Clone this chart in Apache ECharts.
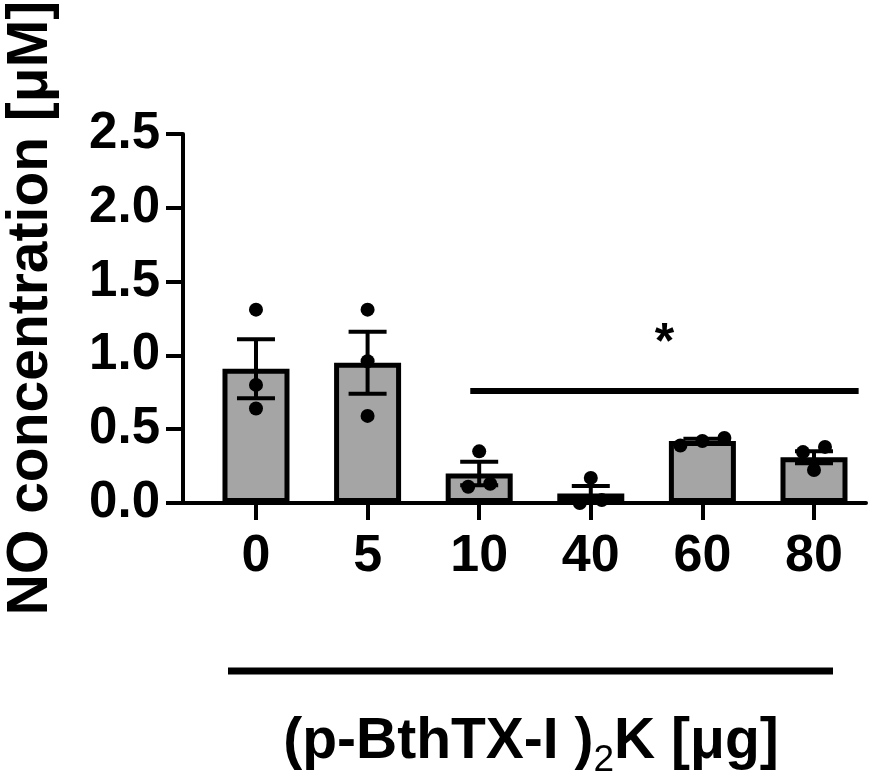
<!DOCTYPE html>
<html><head><meta charset="utf-8">
<script src="https://cdn.jsdelivr.net/npm/echarts@6/dist/echarts.min.js"></script>
<style>html,body{margin:0;padding:0;background:#fff}#c{width:893px;height:774px}</style>
</head><body><div id="c"></div>
<script>
// ---- data ----
const categories = ['0', '5', '10', '40', '60', '80'];
const means = [0.91, 0.95, 0.20, 0.065, 0.42, 0.31];
const sems = [0.20, 0.21, 0.08, 0.05, 0.015, 0.04];
const points = [
  [1.31, 0.80, 0.64],
  [1.31, 0.96, 0.59],
  [0.35, 0.11, 0.13],
  [0.17, 0.00, 0.02],
  [0.39, 0.42, 0.44],
  [0.38, 0.345, 0.224]
];
const yTicks = [0, 0.5, 1.0, 1.5, 2.0, 2.5];
const sigSpan = [1.92, 5.40];
const sigLevel = 0.76;
const sigLabel = '*';
const yTitle = 'NO concentration [\u03bcM]';
const xTitleParts = ['(p-BthTX-I )', '2', 'K [\u03bcg]'];

// ---- build ----
const FONT = "'Liberation Sans', Arial, sans-serif";
const idx = categories.map((c, i) => i);

function swarmOffsets(vals, thresh, spread) {
  const order = vals.map((v, i) => i).sort((a, b) => vals[a] - vals[b]);
  const offs = new Array(vals.length).fill(0);
  let cluster = [order[0]];
  const flush = () => {
    const n = cluster.length;
    cluster.forEach((k, j) => { offs[k] = (j - (n - 1) / 2) * spread; });
  };
  for (let j = 1; j < order.length; j++) {
    if (vals[order[j]] - vals[order[j - 1]] < thresh) cluster.push(order[j]);
    else { flush(); cluster = [order[j]]; }
  }
  flush();
  return offs;
}

const scatterData = [];
points.forEach((grp, i) => {
  const offs = swarmOffsets(grp, 0.1, 22);
  grp.forEach((v, k) => scatterData.push({ value: [i, v], symbolOffset: [offs[k], 0] }));
});

const chart = echarts.init(document.getElementById('c'), null, { renderer: 'canvas' });
chart.setOption({
  animation: false,
  backgroundColor: '#fff',
  grid: { left: 183, right: 27, top: 134, bottom: 271, containLabel: false },
  xAxis: {
    type: 'value', min: -0.654, max: 5.466,
    splitLine: { show: false },
    axisLine: { show: true, onZero: false, lineStyle: { color: '#000', width: 4 } },
    axisTick: { show: true, length: 17, lineStyle: { color: '#000', width: 4 }, customValues: idx },
    axisLabel: {
      customValues: idx, margin: 28,
      formatter: v => categories[Math.round(v)],
      color: '#000', fontFamily: FONT, fontWeight: 'bold', fontSize: 52
    }
  },
  yAxis: {
    type: 'value', min: 0, max: 2.5, interval: 0.5,
    splitLine: { show: false },
    axisLine: { show: true, onZero: false, lineStyle: { color: '#000', width: 4 } },
    axisTick: { show: true, length: 17, lineStyle: { color: '#000', width: 4 }, customValues: yTicks },
    axisLabel: {
      customValues: yTicks, margin: 23,
      formatter: v => Number(v).toFixed(1),
      color: '#000', fontFamily: FONT, fontWeight: 'bold', fontSize: 51
    }
  },
  series: [
    {
      type: 'bar', barWidth: 67, z: 2,
      data: means.map((m, i) => [i, m]),
      itemStyle: { color: '#a5a5a5', borderColor: '#000', borderWidth: 5 }
    },
    {
      type: 'custom', z: 3,
      data: means.map((m, i) => [i, m, sems[i]]),
      renderItem: (params, api) => {
        const x = api.value(0), m = api.value(1), s = api.value(2);
        const t = api.coord([x, m + s]);
        const b = api.coord([x, m - s]);
        const h = 19;
        const st = { stroke: '#000', lineWidth: 4 };
        return {
          type: 'group', children: [
            { type: 'line', shape: { x1: t[0], y1: t[1], x2: b[0], y2: b[1] }, style: st },
            { type: 'line', shape: { x1: t[0] - h, y1: t[1], x2: t[0] + h, y2: t[1] }, style: st },
            { type: 'line', shape: { x1: b[0] - h, y1: b[1], x2: b[0] + h, y2: b[1] }, style: st }
          ]
        };
      }
    },
    {
      type: 'scatter', z: 4, symbol: 'circle', symbolSize: 14,
      itemStyle: { color: '#000', opacity: 1 },
      data: scatterData,
      markLine: {
        silent: true, symbol: ['none', 'none'],
        lineStyle: { color: '#000', width: 6, type: 'solid', opacity: 1 },
        label: {
          show: true, position: 'middle', formatter: sigLabel, distance: 22,
          color: '#000', fontFamily: FONT, fontWeight: 'bold', fontSize: 50
        },
        data: [[{ coord: [sigSpan[0], sigLevel] }, { coord: [sigSpan[1], sigLevel] }]]
      }
    }
  ],
  graphic: [
    {
      type: 'text', x: 31, y: 308, rotation: Math.PI / 2,
      style: {
        text: yTitle, fill: '#000', fontFamily: FONT, fontWeight: 'bold', fontSize: 57,
        align: 'center', verticalAlign: 'middle'
      }
    },
    {
      type: 'line', shape: { x1: 228, y1: 671, x2: 833, y2: 671 },
      style: { stroke: '#000', lineWidth: 7 }
    },
    {
      type: 'text', x: 531, y: 742,
      style: {
        text: '{a|' + xTitleParts[0] + '}{s|' + xTitleParts[1] + '}{a|' + xTitleParts[2] + '}',
        align: 'center', verticalAlign: 'middle',
        rich: {
          a: { fill: '#000', fontFamily: FONT, fontWeight: 'bold', fontSize: 57, lineHeight: 64 },
          s: { fill: '#000', fontFamily: FONT, fontWeight: 'normal', fontSize: 37, padding: [38, 0, 0, 0], lineHeight: 40 }
        }
      }
    }
  ]
});
</script></body></html>
